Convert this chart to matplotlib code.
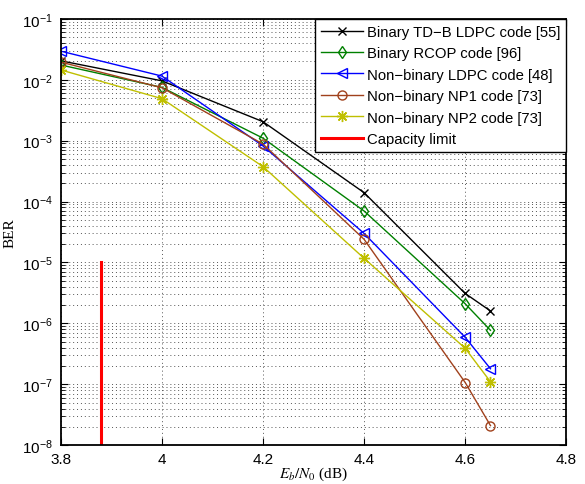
import matplotlib
matplotlib.use("Agg")
import matplotlib.pyplot as plt
from matplotlib.ticker import LogLocator, NullFormatter

plt.rcParams["font.family"] = ["Liberation Sans", "DejaVu Sans"]
plt.rcParams["mathtext.fontset"] = "stix"

# Eb/N0 points (dB) and BER for each code
ebn0 = [3.8, 4.0, 4.2, 4.4, 4.6, 4.65]
ber_tdb = [2.05e-2, 9.6e-3, 2.05e-3, 1.4e-4, 3.1e-6, 1.6e-6]
ber_rcop = [1.75e-2, 7.5e-3, 1.1e-3, 7.0e-5, 2.1e-6, 7.7e-7]
ber_nb_ldpc = [2.95e-2, 1.15e-2, 8.2e-4, 3.0e-5, 5.9e-7, 1.8e-7]
ber_np1 = [1.95e-2, 7.4e-3, 8.8e-4, 2.4e-5, 1.07e-7, 2.1e-8]
ber_np2 = [1.45e-2, 4.9e-3, 3.75e-4, 1.17e-5, 3.9e-7, 1.1e-7]

capacity_x = [3.88, 3.88]
capacity_ber = [1e-8, 1e-5]

x_ticks = [3.8, 4.0, 4.2, 4.4, 4.6, 4.8]
x_tick_labels = ["3.8", "4", "4.2", "4.4", "4.6", "4.8"]
y_ticks = [1e-8, 1e-7, 1e-6, 1e-5, 1e-4, 1e-3, 1e-2, 1e-1]

labels = [
    "Binary TD\u2212B LDPC code [55]",
    "Binary RCOP code [96]",
    "Non\u2212binary LDPC code [48]",
    "Non\u2212binary NP1 code [73]",
    "Non\u2212binary NP2 code [73]",
    "Capacity limit",
]

fig = plt.figure(figsize=(5.85, 4.85), dpi=100)
ax = fig.add_axes([0.104, 0.080, 0.864, 0.879])

ax.semilogy(ebn0, ber_tdb, color="black", marker="x", ms=6, lw=1, label=labels[0])
ax.semilogy(ebn0, ber_rcop, color="#008000", marker="d", ms=6, mfc="none", lw=1, label=labels[1])
ax.semilogy(ebn0, ber_nb_ldpc, color="#0000ff", marker="<", ms=7, mfc="none", lw=1, label=labels[2])
ax.semilogy(ebn0, ber_np1, color="#a0411c", marker="o", ms=6.5, mfc="none", lw=1, label=labels[3])
ax.semilogy(ebn0, ber_np2, color="#bfbf00", marker=(8, 2, 0), ms=8, lw=1, label=labels[4])
ax.semilogy(capacity_x, capacity_ber, color="#ff0000", lw=2.2, label=labels[5])

ax.set_xlim(3.8, 4.8)
ax.set_xticks(x_ticks)
ax.set_xticklabels(x_tick_labels)
ax.set_yticks(y_ticks)
ax.yaxis.set_minor_locator(LogLocator(base=10, subs=range(2, 10), numticks=100))
ax.yaxis.set_minor_formatter(NullFormatter())
ax.set_ylim(1e-8, 1e-1)

ax.grid(True, which="major", ls=(0, (1, 3)), color="#555555", lw=0.7)
ax.grid(True, which="minor", axis="y", ls=(0, (1, 3)), color="#555555", lw=0.7)
ax.tick_params(which="both", direction="in", top=True, right=True, labelsize=11)
ax.tick_params(which="major", length=5)
ax.tick_params(which="minor", length=3)
ax.tick_params(axis="x", pad=5)
ax.tick_params(axis="y", pad=6)
for sp in ax.spines.values():
    sp.set_linewidth(1.3)

ax.set_xlabel(r"$E_b/N_0$ (dB)", fontsize=11, labelpad=-1)
ax.set_ylabel("BER", fontsize=11, labelpad=4)
ax.xaxis.label.set_family(["Liberation Serif", "DejaVu Serif"])
ax.yaxis.label.set_family(["Liberation Serif", "DejaVu Serif"])

leg = ax.legend(loc="upper right", fontsize=10.7, fancybox=False, framealpha=1,
                edgecolor="black", borderaxespad=0, handlelength=2.8,
                handletextpad=0.3, labelspacing=0.5, borderpad=0.4)
leg.get_frame().set_linewidth(1.0)

fig.savefig("out.png", dpi=100)
